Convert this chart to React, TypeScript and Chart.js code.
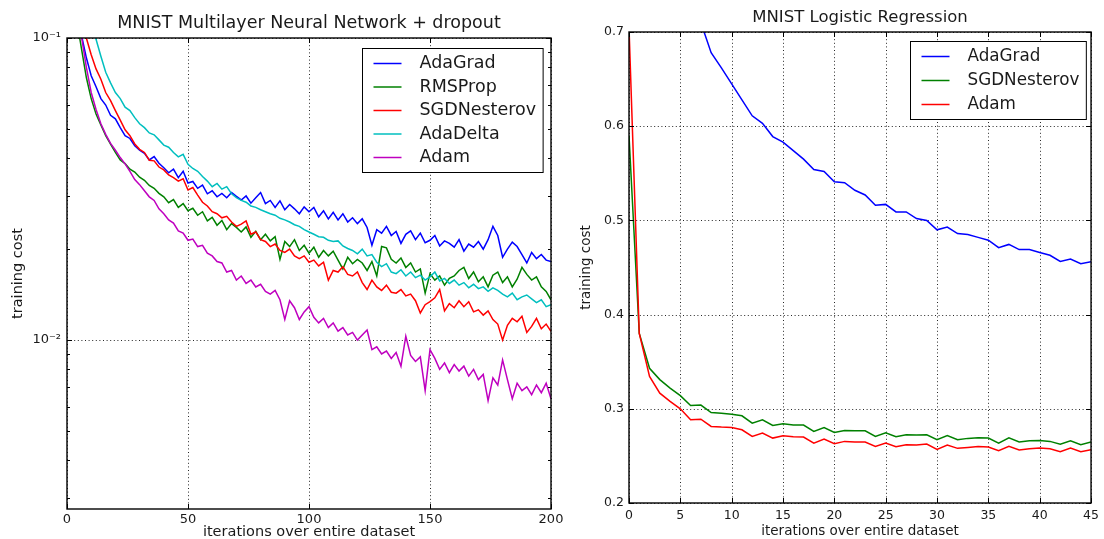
import React, { useEffect, useRef } from 'react';
import { Chart, registerables } from 'chart.js';

Chart.register(...registerables);

const FONT = '"DejaVu Sans", "Liberation Sans", sans-serif';
const TEXT = '#1a1a1a';

// ---------------- Left panel: MNIST Multilayer Neural Network + dropout ----------------
const leftTitle = 'MNIST Multilayer Neural Network + dropout';
const leftIterations = Array.from({ length: 101 }, (_, k) => k * 2); // 0,2,...,200
const leftNames = ['AdaGrad', 'RMSProp', 'SGDNesterov', 'AdaDelta', 'Adam'];
const leftColors = ['#0000ff', '#008000', '#ff0000', '#00bfbf', '#bf00bf'];

const adaGradLeft = [
  0.25, 0.17, 0.125, 0.102, 0.086, 0.075, 0.069, 0.063, 0.060, 0.0555,
  0.054, 0.0505, 0.0475, 0.0465, 0.044, 0.0425, 0.0415, 0.0395, 0.0405, 0.0385,
  0.0372, 0.0358, 0.0368, 0.0345, 0.0362, 0.0331, 0.0335, 0.0318, 0.0326, 0.0305,
  0.0312, 0.0298, 0.0306, 0.0296, 0.0308, 0.0299, 0.0291, 0.0300, 0.0284, 0.0296,
  0.0308, 0.0283, 0.0290, 0.0275, 0.0289, 0.0270, 0.0281, 0.0272, 0.0262, 0.0276,
  0.0266, 0.0275, 0.0256, 0.0268, 0.0252, 0.0265, 0.0250, 0.0262, 0.0246, 0.0254,
  0.0243, 0.0252, 0.0236, 0.0206, 0.0232, 0.0226, 0.0238, 0.0222, 0.0229, 0.0209,
  0.0224, 0.0230, 0.0215, 0.0226, 0.0210, 0.0214, 0.0222, 0.0205, 0.0213, 0.0209,
  0.0203, 0.0215, 0.0197, 0.0208, 0.0203, 0.0212, 0.0200, 0.0215, 0.0238, 0.0222,
  0.0188, 0.0200, 0.0211, 0.0204, 0.0192, 0.0180, 0.0195, 0.0186, 0.0192, 0.0184,
  0.0182,
];
const rmsPropLeft = [
  0.22, 0.155, 0.115, 0.092, 0.074, 0.063, 0.056, 0.0515, 0.0475, 0.0445,
  0.0418, 0.0395, 0.0384, 0.0368, 0.0360, 0.0346, 0.0338, 0.0325, 0.0318, 0.0306,
  0.0298, 0.0285, 0.0292, 0.0275, 0.0283, 0.0268, 0.0273, 0.0259, 0.0266, 0.0248,
  0.0255, 0.0240, 0.0249, 0.0232, 0.0243, 0.0236, 0.0228, 0.0237, 0.0219, 0.0229,
  0.0215, 0.0224, 0.0213, 0.0220, 0.0185, 0.0212, 0.0204, 0.0215, 0.0198, 0.0206,
  0.0194, 0.0203, 0.0188, 0.0198, 0.0190, 0.0197, 0.0184, 0.0172, 0.0188, 0.0179,
  0.0185, 0.0180, 0.0170, 0.0182, 0.0163, 0.0204, 0.0202, 0.0185, 0.0180, 0.0187,
  0.0174, 0.0180, 0.0168, 0.0172, 0.0143, 0.0166, 0.0158, 0.0163, 0.0152, 0.0160,
  0.0163, 0.0170, 0.0174, 0.0160, 0.0168, 0.0156, 0.0162, 0.0150, 0.0164, 0.0168,
  0.0155, 0.0162, 0.0150, 0.0159, 0.0174, 0.0165, 0.0158, 0.0162, 0.0150, 0.0145,
  0.0136,
];
const sgdNesterovLeft = [
  0.30, 0.21, 0.155, 0.12, 0.100, 0.088, 0.079, 0.073, 0.066, 0.062,
  0.0575, 0.0535, 0.0497, 0.0475, 0.0446, 0.0428, 0.0418, 0.0394, 0.0392, 0.0374,
  0.0366, 0.0352, 0.0345, 0.0336, 0.0342, 0.0314, 0.0320, 0.0302, 0.0286, 0.0278,
  0.0266, 0.0262, 0.0254, 0.0257, 0.0246, 0.0238, 0.0242, 0.0248, 0.0224, 0.0228,
  0.0215, 0.0212, 0.0204, 0.0208, 0.0198, 0.0195, 0.0200, 0.0190, 0.0186, 0.0190,
  0.0181, 0.0184, 0.0176, 0.0181, 0.0158, 0.0170, 0.0168, 0.0175, 0.0165, 0.0163,
  0.0168, 0.0155, 0.0147, 0.0158, 0.0150, 0.0146, 0.0152, 0.0144, 0.0143, 0.0147,
  0.0140, 0.0142, 0.0135, 0.0123, 0.0131, 0.0134, 0.0138, 0.0147, 0.0125, 0.0132,
  0.0128, 0.0135, 0.0129, 0.0134, 0.0124, 0.0126, 0.0121, 0.0125, 0.0117, 0.0113,
  0.0100, 0.0112, 0.0118, 0.0115, 0.0120, 0.0106, 0.0111, 0.0118, 0.0109, 0.0113,
  0.0107,
];
const adaDeltaLeft = [
  0.40, 0.28, 0.21, 0.165, 0.135, 0.114, 0.099, 0.087, 0.077, 0.071,
  0.066, 0.063, 0.059, 0.0575, 0.0545, 0.052, 0.0505, 0.0485, 0.0478, 0.046,
  0.0442, 0.0435, 0.0418, 0.0404, 0.0412, 0.0382, 0.0370, 0.0362, 0.0348, 0.0336,
  0.0322, 0.0330, 0.0316, 0.0322, 0.0305, 0.0296, 0.0290, 0.0286, 0.0278, 0.0275,
  0.0270, 0.0266, 0.0262, 0.0259, 0.0253, 0.0250, 0.0246, 0.0241, 0.0238, 0.0232,
  0.0228, 0.0224, 0.0220, 0.0219, 0.0214, 0.0212, 0.0213, 0.0205, 0.0201, 0.0198,
  0.0193, 0.0200, 0.0190, 0.0192, 0.0181, 0.0175, 0.0179, 0.0168, 0.0166, 0.0171,
  0.0163, 0.0168, 0.0161, 0.0164, 0.0158, 0.0162, 0.0168, 0.0157, 0.0160, 0.0154,
  0.0158, 0.0152, 0.0155, 0.0149, 0.0153, 0.0148, 0.0150, 0.0145, 0.0149, 0.0146,
  0.0142, 0.0139, 0.0143, 0.0136, 0.0139, 0.0141, 0.0137, 0.0133, 0.0136, 0.0129,
  0.0131,
];
const adamLeft = [
  0.26, 0.18, 0.13, 0.101, 0.080, 0.066, 0.058, 0.052, 0.048, 0.0448,
  0.0425, 0.0402, 0.0383, 0.0362, 0.0340, 0.0327, 0.0312, 0.0298, 0.0290, 0.0272,
  0.0262, 0.0250, 0.0244, 0.0230, 0.0226, 0.0214, 0.0216, 0.0204, 0.0206, 0.0194,
  0.0190, 0.0182, 0.0180, 0.0168, 0.0170, 0.0158, 0.0163, 0.0154, 0.0158, 0.0150,
  0.0153, 0.0145, 0.0142, 0.0146, 0.0136, 0.0117, 0.0135, 0.0128, 0.0117, 0.0124,
  0.0129, 0.0119, 0.0114, 0.0118, 0.0110, 0.0114, 0.0107, 0.0110, 0.0104, 0.0106,
  0.0100, 0.0104, 0.0108, 0.0093, 0.0095, 0.0090, 0.0092, 0.0087, 0.0091, 0.0082,
  0.0103, 0.0089, 0.0085, 0.0088, 0.0068, 0.0093, 0.0087, 0.0080, 0.0084, 0.0078,
  0.0083, 0.0079, 0.0082, 0.0076, 0.0080, 0.0074, 0.0077, 0.0063, 0.0075, 0.0071,
  0.0086, 0.0074, 0.0064, 0.0072, 0.0068, 0.0070, 0.0066, 0.0071, 0.0067, 0.0072,
  0.0064,
];
const leftXTicks = [0, 50, 100, 150, 200];
const leftYTicks = [0.01, 0.1];
const leftYTickLabels = ['10⁻²', '10⁻¹'];
const leftYMinorTicks = [0.003, 0.004, 0.005, 0.006, 0.007, 0.008, 0.009, 0.02, 0.03, 0.04, 0.05, 0.06, 0.07, 0.08, 0.09];

// ---------------- Right panel: MNIST Logistic Regression ----------------
const rightTitle = 'MNIST Logistic Regression';
const rightIterations = Array.from({ length: 46 }, (_, k) => k); // 0..45
const rightNames = ['AdaGrad', 'SGDNesterov', 'Adam'];
const rightColors = ['#0000ff', '#008000', '#ff0000'];

const adaGradRight = [
  2.3, 1.5, 1.2, 1.0, 0.9, 0.82, 0.76, 0.71, 0.678, 0.662,
  0.645, 0.628, 0.611, 0.603, 0.589, 0.583, 0.574, 0.565, 0.554, 0.552,
  0.541, 0.540, 0.532, 0.527, 0.516, 0.517, 0.509, 0.509, 0.502, 0.500,
  0.490, 0.493, 0.486, 0.485, 0.482, 0.479, 0.471, 0.4745, 0.469, 0.469,
  0.466, 0.463, 0.4565, 0.459, 0.454, 0.456,
];
const sgdNesterovRight = [
  0.59, 0.380, 0.343, 0.331, 0.322, 0.314, 0.3035, 0.304, 0.296, 0.2954,
  0.2943, 0.2926, 0.2848, 0.2883, 0.2823, 0.2841, 0.2827, 0.2827, 0.276, 0.2802,
  0.2749, 0.277, 0.2767, 0.2767, 0.2707, 0.2746, 0.2703, 0.2724, 0.2721, 0.2724,
  0.2671, 0.2717, 0.2671, 0.2686, 0.2693, 0.2689, 0.2636, 0.2693, 0.2647, 0.2661,
  0.2664, 0.2654, 0.2625, 0.2661, 0.2618, 0.2647,
];
const adamRight = [
  0.705, 0.380, 0.3343, 0.3166, 0.3078, 0.300, 0.2883, 0.289, 0.2813, 0.2806,
  0.2802, 0.2777, 0.2707, 0.2742, 0.2689, 0.2714, 0.2703, 0.270, 0.2636, 0.2678,
  0.2629, 0.2654, 0.2647, 0.2647, 0.2601, 0.2636, 0.2597, 0.2618, 0.2615, 0.2625,
  0.2569, 0.2615, 0.2580, 0.259, 0.2601, 0.2594, 0.2555, 0.2601, 0.2562, 0.2576,
  0.2583, 0.2576, 0.2544, 0.2583, 0.2544, 0.2565,
];
const rightXTicks = [0, 5, 10, 15, 20, 25, 30, 35, 40, 45];
const rightYTicks = [0.2, 0.3, 0.4, 0.5, 0.6, 0.7];

const yAxisTitle = 'training cost';
const xAxisTitle = 'iterations over entire dataset';

type Spec = {
  title: string;
  titleOffset: number;
  xs: number[];
  series: number[][];
  names: string[];
  colors: string[];
  xMin: number;
  xMax: number;
  yType: 'linear' | 'logarithmic';
  yMin: number;
  yMax: number;
  xTicks: number[];
  yTicks: number[];
  yMinor: number[];
  yLabel: (v: number) => string;
  yAxisWidth: number;
  xAxisHeight: number;
  padTop: number;
  padRight: number;
  yTickPad: number;
  xTickPad: number;
  xTitleLift: number;
  yTitlePad: number;
  legendMarginRight: number;
  legendMarginTop: number;
  legendRow: number;
  tickSize: number;
  labelSize: number;
  titleSize: number;
  legendSize: number;
};

function decorPlugin(spec: Spec) {
  return {
    id: 'decor',
    beforeDatasetsDraw(chart: any) {
      const { ctx, chartArea: a } = chart;
      const xs = chart.scales.x;
      const ys = chart.scales.y;
      ctx.save();
      ctx.strokeStyle = '#000';
      ctx.globalAlpha = 0.85;
      ctx.lineWidth = 1;
      ctx.setLineDash([1, 2.6]);
      spec.xTicks.forEach((v) => {
        const x = Math.round(xs.getPixelForValue(v)) + 0.5;
        ctx.beginPath();
        ctx.moveTo(x, a.top);
        ctx.lineTo(x, a.bottom);
        ctx.stroke();
      });
      spec.yTicks.forEach((v) => {
        const y = Math.round(ys.getPixelForValue(v)) + 0.5;
        ctx.beginPath();
        ctx.moveTo(a.left, y);
        ctx.lineTo(a.right, y);
        ctx.stroke();
      });
      ctx.restore();
    },
    afterDatasetsDraw(chart: any) {
      const { ctx, chartArea: a } = chart;
      const xs = chart.scales.x;
      const ys = chart.scales.y;
      ctx.save();
      // frame
      ctx.strokeStyle = '#000';
      ctx.lineWidth = 1.4;
      ctx.strokeRect(a.left, a.top, a.right - a.left, a.bottom - a.top);
      // inward tick marks
      ctx.lineWidth = 1;
      const seg = (x1: number, y1: number, x2: number, y2: number) => {
        ctx.beginPath();
        ctx.moveTo(x1, y1);
        ctx.lineTo(x2, y2);
        ctx.stroke();
      };
      spec.xTicks.forEach((v) => {
        const x = Math.round(xs.getPixelForValue(v)) + 0.5;
        seg(x, a.bottom, x, a.bottom - 5);
        seg(x, a.top, x, a.top + 5);
      });
      spec.yTicks.forEach((v) => {
        const y = Math.round(ys.getPixelForValue(v)) + 0.5;
        seg(a.left, y, a.left + 5, y);
        seg(a.right, y, a.right - 5, y);
      });
      spec.yMinor.forEach((v) => {
        if (v < spec.yMin || v > spec.yMax) return;
        const y = Math.round(ys.getPixelForValue(v)) + 0.5;
        seg(a.left, y, a.left + 3, y);
        seg(a.right, y, a.right - 3, y);
      });
      // title
      ctx.fillStyle = TEXT;
      ctx.font = `${spec.titleSize}px ${FONT}`;
      ctx.textAlign = 'center';
      ctx.textBaseline = 'middle';
      ctx.fillText(spec.title, (a.left + a.right) / 2, a.top - spec.titleOffset);
      // legend
      ctx.font = `${spec.legendSize}px ${FONT}`;
      const labels = chart.data.datasets.map((d: any) => d.label as string);
      const maxW = Math.max(...labels.map((t: string) => ctx.measureText(t).width));
      const rowH = spec.legendRow;
      const w = 11 + 28 + 18 + maxW + 7;
      const h = 30 + rowH * (labels.length - 1);
      const bx = Math.round(a.right - spec.legendMarginRight - w) + 0.5;
      const by = Math.round(a.top + spec.legendMarginTop) + 0.5;
      ctx.fillStyle = '#fff';
      ctx.fillRect(bx, by, w, h);
      ctx.strokeStyle = '#000';
      ctx.lineWidth = 1;
      ctx.strokeRect(bx, by, w, h);
      chart.data.datasets.forEach((d: any, i: number) => {
        const cy = by + 15 + i * rowH;
        ctx.strokeStyle = d.borderColor;
        ctx.lineWidth = 1.5;
        seg(bx + 11, cy, bx + 39, cy);
        ctx.fillStyle = TEXT;
        ctx.textAlign = 'left';
        ctx.textBaseline = 'middle';
        ctx.fillText(d.label, bx + 57, cy);
      });
      ctx.restore();
    },
  };
}

function makeChart(canvas: HTMLCanvasElement, spec: Spec) {
  const n = spec.series.length;
  return new Chart(canvas, {
    type: 'line',
    data: {
      datasets: spec.series.map((vals, i) => ({
        label: spec.names[i],
        data: vals.map((v, k) => ({ x: spec.xs[k], y: v })),
        borderColor: spec.colors[i],
        backgroundColor: spec.colors[i],
        borderWidth: 1.5,
        pointRadius: 0,
        tension: 0,
        fill: false,
        order: n - i,
      })),
    },
    options: {
      responsive: false,
      animation: false,
      devicePixelRatio: 1,
      events: [],
      layout: { padding: { left: 0, top: spec.padTop, right: spec.padRight, bottom: 0 } },
      plugins: {
        legend: { display: false },
        tooltip: { enabled: false },
        title: { display: false },
      },
      scales: {
        x: {
          type: 'linear',
          min: spec.xMin,
          max: spec.xMax,
          grid: { display: false, drawTicks: false },
          border: { display: false },
          afterBuildTicks: (s: any) => {
            s.ticks = spec.xTicks.map((v) => ({ value: v }));
          },
          afterFit: (s: any) => {
            s.height = spec.xAxisHeight;
          },
          ticks: {
            color: TEXT,
            font: { family: FONT, size: spec.tickSize },
            padding: spec.xTickPad,
            maxRotation: 0,
            autoSkip: false,
            callback: (v: any) => String(v),
          },
          title: {
            display: true,
            text: xAxisTitle,
            color: TEXT,
            font: { family: FONT, size: spec.labelSize },
            padding: { top: 0, bottom: spec.xTitleLift },
          },
        },
        y: {
          type: spec.yType,
          min: spec.yMin,
          max: spec.yMax,
          grid: { display: false, drawTicks: false },
          border: { display: false },
          afterBuildTicks: (s: any) => {
            s.ticks = spec.yTicks.map((v) => ({ value: v }));
          },
          afterFit: (s: any) => {
            s.width = spec.yAxisWidth;
          },
          ticks: {
            color: TEXT,
            font: { family: FONT, size: spec.tickSize },
            padding: spec.yTickPad,
            autoSkip: false,
            callback: (v: any) => spec.yLabel(Number(v)),
          },
          title: {
            display: true,
            text: yAxisTitle,
            color: TEXT,
            font: { family: FONT, size: spec.labelSize },
            padding: { top: spec.yTitlePad, bottom: 0 },
          },
        },
      },
    } as any,
    plugins: [decorPlugin(spec)],
  });
}

const leftSpec: Spec = {
  title: leftTitle,
  titleOffset: 15,
  xs: leftIterations,
  series: [adaGradLeft, rmsPropLeft, sgdNesterovLeft, adaDeltaLeft, adamLeft],
  names: leftNames,
  colors: leftColors,
  xMin: 0,
  xMax: 200,
  yType: 'logarithmic',
  yMin: 0.00276,
  yMax: 0.1,
  xTicks: leftXTicks,
  yTicks: leftYTicks,
  yMinor: leftYMinorTicks,
  yLabel: (v) => {
    const idx = leftYTicks.findIndex((t) => Math.abs(t - v) / t < 1e-6);
    return idx >= 0 ? leftYTickLabels[idx] : '';
  },
  yAxisWidth: 67,
  xAxisHeight: 30,
  padTop: 38,
  padRight: 29,
  yTickPad: 6,
  xTickPad: 3,
  xTitleLift: -2,
  yTitlePad: 10,
  legendMarginRight: 8,
  legendMarginTop: 10,
  legendRow: 23.5,
  tickSize: 13,
  labelSize: 14.5,
  titleSize: 17.5,
  legendSize: 17.5,
};

const rightSpec: Spec = {
  title: rightTitle,
  titleOffset: 14,
  xs: rightIterations,
  series: [adaGradRight, sgdNesterovRight, adamRight],
  names: rightNames,
  colors: rightColors,
  xMin: 0,
  xMax: 45,
  yType: 'linear',
  yMin: 0.2,
  yMax: 0.7,
  xTicks: rightXTicks,
  yTicks: rightYTicks,
  yMinor: [],
  yLabel: (v) => v.toFixed(1),
  yAxisWidth: 59,
  xAxisHeight: 36,
  padTop: 32,
  padRight: 11,
  yTickPad: 5,
  xTickPad: 5,
  xTitleLift: -1,
  yTitlePad: 8,
  legendMarginRight: 5,
  legendMarginTop: 9,
  legendRow: 24,
  tickSize: 12.5,
  labelSize: 13.5,
  titleSize: 16.5,
  legendSize: 16.8,
};

export default function App() {
  const leftRef = useRef<HTMLCanvasElement>(null);
  const rightRef = useRef<HTMLCanvasElement>(null);

  useEffect(() => {
    const c1 = makeChart(leftRef.current!, leftSpec);
    const c2 = makeChart(rightRef.current!, rightSpec);
    return () => {
      c1.destroy();
      c2.destroy();
    };
  }, []);

  return (
    <div style={{ position: 'fixed', left: 0, top: 0, width: 1104, height: 539, background: '#fff', overflow: 'hidden' }}>
      <canvas ref={leftRef} width={580} height={539} style={{ position: 'absolute', left: 0, top: 0 }} />
      <canvas ref={rightRef} width={534} height={539} style={{ position: 'absolute', left: 570, top: 0 }} />
    </div>
  );
}
